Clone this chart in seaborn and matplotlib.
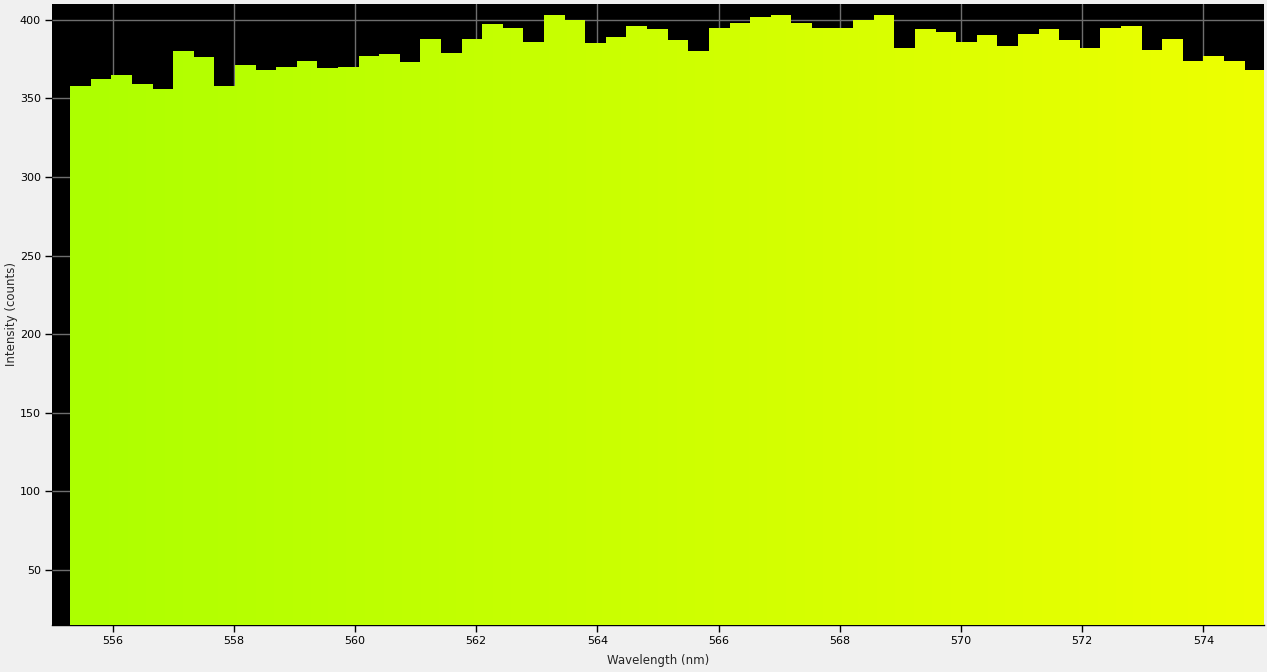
import numpy as np
import matplotlib
matplotlib.use("Agg")
import matplotlib.pyplot as plt
import seaborn as sns

# Spectrum data (left bin edges in nm, counts per bin)
bin_left = [555.30, 555.64, 555.98, 556.32, 556.66, 557.00, 557.34, 557.68, 558.02, 558.36,
            558.70, 559.04, 559.38, 559.72, 560.06, 560.40, 560.74, 561.08, 561.42, 561.76,
            562.10, 562.44, 562.78, 563.12, 563.46, 563.80, 564.14, 564.48, 564.82, 565.16,
            565.50, 565.84, 566.18, 566.52, 566.86, 567.20, 567.54, 567.88, 568.22, 568.56,
            568.90, 569.24, 569.58, 569.92, 570.26, 570.60, 570.94, 571.28, 571.62, 571.96,
            572.30, 572.64, 572.98, 573.32, 573.66, 574.00, 574.34, 574.68]
bin_width = 0.34
counts = [358, 362, 365, 359, 356, 380, 376, 358, 371, 368,
          370, 374, 369, 370, 377, 378, 373, 388, 379, 388,
          397, 395, 386, 403, 400, 385, 389, 396, 394, 387,
          380, 395, 398, 402, 403, 398, 395, 395, 400, 403,
          382, 394, 392, 386, 390, 383, 391, 394, 387, 382,
          395, 396, 381, 388, 374, 377, 374, 368]

x_ticks = [556, 558, 560, 562, 564, 566, 568, 570, 572, 574]
y_ticks = [50, 100, 150, 200, 250, 300, 350, 400]

# colour at the ends of the visible wavelength range
color_start = (172 / 255, 1.0, 0.0)
color_end = (238 / 255, 1.0, 0.0)

sns.set_style("ticks")
plt.rcParams['font.family'] = ['DejaVu Sans']

fig = plt.figure(figsize=(12.67, 6.72), dpi=100, facecolor="#f0f0f0")
ax = fig.add_axes([52 / 1267, 47 / 672, 1212 / 1267, 621 / 672])
ax.set_facecolor("black")

edges = bin_left + [bin_left[-1] + bin_width]
centers = [b + bin_width / 2 for b in bin_left]

sns.histplot(x=centers, weights=counts, bins=edges, element="step", fill=True,
             color="yellow", linewidth=0, alpha=1, ax=ax, zorder=2)

# gradient clipped to the spectrum outline
poly = ax.collections[0]
grad = np.linspace(0, 1, 512).reshape(1, -1)
cmap = matplotlib.colors.LinearSegmentedColormap.from_list("spec", [color_start, color_end])
im = ax.imshow(grad, cmap=cmap, aspect="auto", extent=[555, 575, 15, 410],
               interpolation="bilinear", zorder=3)
im.set_clip_path(poly.get_paths()[0], transform=poly.get_transform())
poly.set_visible(False)
ax.set_xlim(555, 575)
ax.set_ylim(15, 410)

ax.set_xticks(x_ticks)
ax.set_yticks(y_ticks)
ax.grid(True, color="#6e6e6e", linewidth=1)
ax.set_axisbelow(True)
ax.tick_params(axis="both", direction="out", length=5, width=1, color="black",
               labelsize=8, labelcolor="black", pad=3)

for side in ["top", "right", "left"]:
    ax.spines[side].set_visible(False)
ax.spines["bottom"].set_color("black")
ax.spines["bottom"].set_linewidth(1)

ax.set_xlabel("Wavelength (nm)", fontsize=8.5, labelpad=6)
ax.set_ylabel("Intensity (counts)", fontsize=8.5)
ax.yaxis.set_label_coords(-0.028, 0.5)

fig.savefig("out.png", dpi=100, facecolor=fig.get_facecolor())
